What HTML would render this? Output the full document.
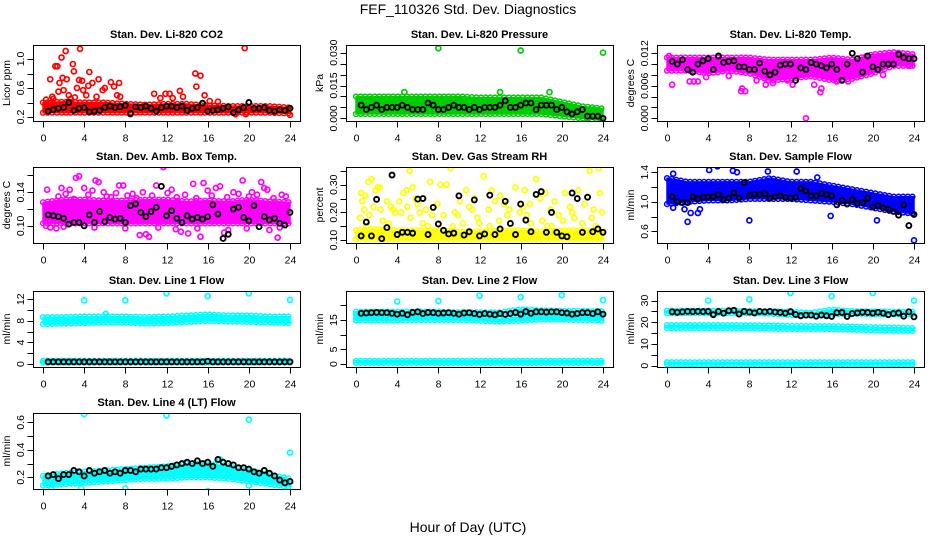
<!DOCTYPE html>
<html><head><meta charset="utf-8"><title>FEF_110326 Std. Dev. Diagnostics</title>
<style>
html,body{margin:0;padding:0;background:#fff;}
svg{display:block;font-family:"Liberation Sans",Arial,sans-serif;}
</style></head>
<body>
<svg id="chart" width="936" height="540" viewBox="0 0 936 540" xmlns="http://www.w3.org/2000/svg">
<rect x="0" y="0" width="936" height="540" fill="#fff"/>
<text x="468" y="14" text-anchor="middle" font-size="14">FEF_110326  Std. Dev. Diagnostics</text>
<text x="468" y="532" text-anchor="middle" font-size="14">Hour of Day (UTC)</text>
</svg>
<script>
// ---------- shared data ----------
const xTicks = [0,4,8,12,16,20,24];
const bandHours = [0,2,4,6,8,10,12,14,16,18,20,22,24];

// CO2
const co2BandLo = [0.26,0.26,0.26,0.26,0.26,0.26,0.26,0.26,0.26,0.26,0.26,0.26,0.25];
const co2BandHi = [0.40,0.41,0.40,0.40,0.38,0.37,0.38,0.38,0.36,0.35,0.35,0.35,0.33];
const co2Out = [[0.7,0.72],[0.9,0.48],[1.2,0.9],[1.4,0.9],[1.6,0.67],[1.8,1.02],[1.9,0.74],[2.2,1.11],[2.3,0.72],[2.0,0.57],[2.5,0.5],[2.9,0.93],[3.0,0.83],[3.3,0.6],[3.5,0.71],[3.6,1.14],[3.8,0.7],[3.9,0.57],[4.2,0.5],[4.4,0.63],[4.5,0.82],[4.8,0.67],[5.4,0.72],[5.8,0.57],[6.0,0.6],[6.6,0.68],[6.9,0.62],[7.2,0.5],[7.4,0.67],[7.5,0.48],[5.2,0.48],[10.8,0.52],[11.4,0.46],[11.9,0.52],[12.3,0.52],[13.3,0.56],[14.8,0.8],[14.9,0.62],[15.3,0.77],[15.7,0.5],[19.6,1.15],[1.0,0.45],[1.5,0.55],[2.7,0.45],[3.1,0.47],[0.3,0.44],[12.6,0.46],[13.6,0.48],[16.2,0.42],[17.0,0.41],[8.5,0.24],[18.7,0.24],[19.7,0.24],[24,0.23]];
const co2Black = [0.28,0.30,0.32,0.33,0.40,0.29,0.32,0.33,0.27,0.28,0.29,0.33,0.35,0.33,0.34,0.36,0.25,0.34,0.33,0.35,0.32,0.28,0.33,0.35,0.35,0.33,0.35,0.29,0.32,0.33,0.39,0.28,0.29,0.30,0.32,0.34,0.26,0.30,0.33,0.40,0.32,0.32,0.33,0.29,0.28,0.30,0.29,0.32];

// Pressure
const presBandLo = [0.002,0.002,0.002,0.002,0.002,0.002,0.002,0.002,0.002,0.002,0.001,0.000,-0.001];
const presBandHi = [0.010,0.010,0.010,0.010,0.010,0.010,0.0095,0.0095,0.0095,0.0095,0.0075,0.0055,0.0045];
const presOut = [[8,0.032],[16,0.031],[24,0.030],[22.5,0.000],[23,0.004],[18.8,0.012],[14,0.012],[4.7,0.012]];
const presBlack = [0.006,0.004,0.005,0.006,0.004,0.005,0.005,0.005,0.006,0.005,0.004,0.004,0.004,0.007,0.006,0.004,0.004,0.005,0.006,0.005,0.005,0.004,0.005,0.004,0.005,0.005,0.005,0.006,0.008,0.005,0.005,0.006,0.007,0.007,0.004,0.006,0.006,0.006,0.004,0.005,0.003,0.002,0.003,0.004,0.001,0.001,0.001,0.000];

// Li-820 temp
const tempBandLo = [0.0088,0.0088,0.0083,0.0088,0.0083,0.0070,0.0073,0.0078,0.0070,0.0073,0.0083,0.0097,0.0097];
const tempBandHi = [0.0112,0.0112,0.0112,0.0112,0.0112,0.0108,0.0108,0.0108,0.0112,0.0108,0.0118,0.0122,0.0118];
const tempOut = [[0.5,0.0062],[2.2,0.0068],[2.6,0.0068],[3,0.0068],[7.2,0.0050],[7.6,0.0050],[7.3,0.0055],[9.6,0.0062],[10.3,0.0065],[13.5,0.0],[14.3,0.0062],[14.9,0.0048],[15,0.0055],[16.5,0.0068],[17.6,0.0068],[8.7,0.0070],[11.7,0.0070],[12.2,0.0062],[6,0.0078],[21,0.0080],[23.6,0.0097],[3.8,0.0076],[0.2,0.0115]];
const tempBlack = [0.0105,0.0100,0.0108,0.0090,0.0085,0.0100,0.0106,0.0110,0.0090,0.0115,0.0103,0.0105,0.0106,0.0095,0.0095,0.0090,0.0090,0.0102,0.0087,0.0080,0.0085,0.0098,0.0100,0.0100,0.0070,0.0093,0.0090,0.0103,0.0100,0.0097,0.0093,0.0100,0.0090,0.0070,0.0100,0.0120,0.0110,0.0085,0.0115,0.0095,0.0090,0.0100,0.0100,0.0100,0.0118,0.0112,0.0110,0.0110];

// Amb box temp
const ambBandLo = [0.103,0.103,0.103,0.103,0.103,0.103,0.103,0.103,0.103,0.103,0.103,0.103,0.103];
const ambBandHi = [0.128,0.131,0.131,0.130,0.130,0.131,0.131,0.129,0.130,0.129,0.131,0.129,0.128];
const ambOut = [[0.4,0.143],[3.2,0.157],[3.5,0.159],[5.1,0.154],[5.4,0.152],[1.8,0.145],[2.6,0.143],[4.0,0.145],[4.8,0.142],[7.4,0.148],[7.8,0.148],[9.4,0.089],[10.0,0.090],[10.3,0.087],[11.0,0.148],[11.7,0.170],[12.5,0.143],[13.4,0.093],[14.1,0.091],[15.3,0.087],[15.6,0.151],[16.8,0.145],[17.6,0.092],[19.4,0.154],[21.2,0.152],[21.5,0.145],[22.0,0.095],[22.8,0.086],[23.2,0.137],[0.7,0.098],[6.2,0.135],[8.7,0.138],[12.9,0.096],[17.2,0.147],[18.5,0.140],[20.3,0.140],[9.7,0.140],[1.3,0.097],[5.9,0.140],[14.6,0.150],[16.0,0.142],[18.0,0.095],[21.8,0.143],[0.3,0.100],[1.5,0.135],[2.2,0.138],[3.0,0.132],[4.4,0.137],[6.6,0.134],[7.1,0.139],[8.2,0.136],[9.1,0.133],[10.6,0.136],[12.1,0.139],[13.0,0.134],[13.8,0.137],[14.9,0.133],[16.4,0.136],[17.9,0.134],[19.0,0.138],[20.0,0.135],[20.8,0.137],[22.4,0.133],[23.6,0.135],[2.0,0.099],[5.0,0.098],[8.0,0.097],[11.2,0.098],[15.0,0.097],[19.8,0.097],[23.0,0.098]];
const ambBlack = [0.113,0.112,0.111,0.109,0.102,0.104,0.104,0.100,0.113,0.104,0.117,0.105,0.110,0.108,0.109,0.104,0.124,0.126,0.116,0.111,0.117,0.122,0.147,0.112,0.118,0.109,0.104,0.112,0.108,0.110,0.108,0.111,0.125,0.114,0.085,0.090,0.120,0.122,0.110,0.106,0.124,0.099,0.111,0.107,0.109,0.103,0.101,0.116];

// Gas stream RH
const rhBandLo = [0.103,0.103,0.103,0.103,0.103,0.103,0.103,0.103,0.103,0.103,0.103,0.103,0.103];
const rhBandHi = [0.135,0.140,0.135,0.135,0.135,0.130,0.130,0.135,0.135,0.130,0.135,0.135,0.130];
const rhOut = [[0.5,0.27],[0.6,0.24],[0.9,0.26],[1.2,0.31],[1.5,0.32],[1.9,0.28],[2.1,0.29],[2.3,0.29],[0.4,0.18],[0.8,0.21],[1.3,0.19],[1.7,0.22],[2.6,0.17],[3.0,0.24],[3.4,0.22],[3.6,0.21],[3.8,0.20],[4.2,0.24],[4.6,0.27],[4.9,0.28],[5.2,0.35],[5.5,0.29],[5.8,0.25],[6.2,0.20],[6.5,0.16],[7.2,0.31],[7.4,0.19],[7.9,0.23],[8.2,0.30],[8.8,0.30],[9.2,0.36],[9.6,0.20],[10.1,0.24],[10.7,0.28],[11.0,0.22],[11.5,0.25],[11.8,0.18],[12.4,0.33],[12.9,0.21],[13.5,0.24],[13.9,0.17],[14.4,0.23],[14.9,0.21],[15.5,0.29],[15.9,0.20],[16.4,0.28],[16.9,0.23],[17.5,0.32],[17.9,0.25],[18.4,0.27],[18.9,0.21],[19.3,0.24],[19.7,0.19],[20.3,0.27],[20.8,0.22],[21.2,0.18],[21.6,0.28],[22.2,0.23],[22.7,0.35],[23.1,0.21],[23.6,0.36],[23.7,0.27],[23.9,0.20],[3.2,0.16],[6.0,0.23],[9.4,0.15],[12.0,0.16],[15.0,0.16],[17.0,0.16],[19.0,0.15],[22.0,0.16],[2.4,0.21],[5.0,0.22],[8.5,0.19],[10.4,0.16],[13.2,0.28],[16.6,0.19],[20.1,0.17],[14.0,0.26],[4.4,0.20],[5.3,0.18],[6.8,0.21],[9.9,0.19],[11.3,0.21],[14.7,0.19],[16.2,0.22],[18.1,0.17],[21.0,0.20],[22.9,0.18],[1.0,0.15],[7.0,0.15],[13.0,0.15],[18.6,0.15],[23.3,0.15]];
const rhBlack = [0.115,0.165,0.115,0.247,0.105,0.145,0.335,0.120,0.128,0.128,0.125,0.248,0.250,0.120,0.218,0.158,0.135,0.122,0.125,0.260,0.118,0.130,0.245,0.115,0.122,0.262,0.120,0.140,0.240,0.160,0.120,0.230,0.172,0.130,0.265,0.275,0.128,0.200,0.128,0.115,0.112,0.270,0.250,0.128,0.255,0.130,0.140,0.128];

// Sample flow
const sfBandLo = [0.97,1.00,1.02,1.02,1.04,1.04,1.04,1.02,1.00,0.97,0.92,0.87,0.84];
const sfBandHi = [1.32,1.27,1.27,1.27,1.27,1.32,1.27,1.27,1.22,1.17,1.12,1.07,1.07];
const sfOut = [[2,0.73],[8,0.75],[4.9,1.48],[4.1,1.43],[6.4,1.42],[6.8,1.40],[12.6,1.41],[15.9,0.81],[20.4,0.75],[24,0.48],[0.6,0.92],[2.3,0.85],[3.0,0.85],[3.2,0.90],[9.8,1.41],[1.7,0.90],[0.6,1.38],[14.6,1.33]];
const sfBlack = [1.07,1.00,0.99,0.99,1.07,1.04,1.06,1.07,1.07,1.10,1.03,1.05,1.12,1.05,1.26,1.09,1.10,1.10,1.11,1.05,1.07,1.08,1.06,1.05,1.06,1.18,1.15,1.08,1.08,1.11,1.10,1.08,0.96,1.02,0.97,1.03,0.98,0.99,1.05,0.93,0.95,0.92,0.90,0.87,0.82,0.96,0.68,0.83];

// Line 1 flow
const l1BandLo = [7.4,7.5,7.6,7.7,7.7,7.5,7.6,7.8,8.0,7.9,7.8,7.7,7.6];
const l1BandHi = [8.7,8.7,8.8,8.8,8.8,8.7,8.8,9.0,9.2,9.0,9.0,8.8,8.8];
const l1Band2Lo = [0.3,0.3,0.3,0.3,0.3,0.3,0.3,0.3,0.3,0.3,0.3,0.3,0.3];
const l1Band2Hi = [0.6,0.6,0.6,0.6,0.6,0.6,0.6,0.6,0.6,0.6,0.6,0.6,0.6];
const l1Out = [[4,11.8],[8,11.8],[12,13.1],[16,12.6],[20,13.1],[24,11.9],[6.1,9.3]];
const l1Black = [0.4,0.4,0.4,0.4,0.4,0.4,0.4,0.4,0.4,0.4,0.4,0.4,0.4,0.4,0.4,0.4,0.4,0.4,0.4,0.4,0.4,0.4,0.4,0.4,0.4,0.4,0.4,0.4,0.4,0.4,0.4,0.5,0.4,0.4,0.4,0.4,0.4,0.4,0.4,0.4,0.4,0.4,0.4,0.4,0.4,0.4,0.4,0.4];

// Line 2 flow
const l2BandLo = [17.0,17.0,17.0,17.0,17.0,17.0,17.0,17.0,17.5,17.2,17.2,17.0,17.0];
const l2BandHi = [17.8,17.8,17.8,17.8,17.8,17.6,17.6,17.6,18.6,18.3,18.1,18.1,18.0];
const l2Band2Lo = [14.9,14.9,14.9,15.0,15.0,15.0,14.8,14.5,14.8,15.2,15.2,15.0,14.8];
const l2Band2Hi = [15.8,15.8,15.8,15.8,15.8,15.8,15.8,15.3,16.1,16.0,15.8,15.8,15.8];
const l2Band3Lo = [0.4,0.4,0.4,0.4,0.4,0.4,0.4,0.4,0.4,0.4,0.4,0.4,0.4];
const l2Band3Hi = [1.1,1.1,1.1,1.1,1.1,1.1,1.1,1.1,1.1,1.1,1.1,1.1,1.1];
const l2Out = [[4,21.3],[8,21.5],[12,23.3],[16,22.8],[20,23.5],[24,21.8]];
const l2Black = [17.3,17.4,17.5,17.6,17.5,17.5,17.3,17.0,17.3,16.8,17.6,17.8,17.2,17.6,17.5,17.3,17.4,17.5,17.3,17.0,17.4,17.5,17.2,16.9,17.2,17.0,16.8,17.2,16.9,17.2,17.6,17.0,17.9,17.3,17.8,17.8,17.7,17.8,17.8,17.5,17.4,17.0,17.2,17.5,17.5,17.2,17.8,17.0];

// Line 3 flow
const l3BandLo = [24.2,24.2,24.2,24.2,24.2,24.0,23.4,23.2,23.7,24.0,23.7,23.7,23.7];
const l3BandHi = [25.3,25.3,25.3,25.3,25.1,25.0,24.8,24.3,25.8,25.1,25.0,24.8,24.8];
const l3Band2Lo = [17.3,17.3,17.3,17.3,17.2,17.1,16.9,16.9,16.9,16.6,16.3,16.1,16.1];
const l3Band2Hi = [18.7,18.7,18.7,18.7,18.6,18.5,18.3,18.2,18.2,18.0,17.7,17.5,17.3];
const l3Band3Lo = [0.6,0.6,0.6,0.6,0.6,0.6,0.6,0.6,0.6,0.6,0.6,0.6,0.6];
const l3Band3Hi = [1.6,1.6,1.6,1.6,1.6,1.6,1.6,1.6,1.6,1.6,1.6,1.6,1.6];
const l3Out = [[4,30],[8,30.5],[12,33.5],[16,32],[20,33.5],[24,30]];
const l3Black = [24.8,24.6,24.8,25.0,24.9,25.0,24.9,25.0,23.5,25.0,24.2,25.3,25.5,23.8,25.0,24.7,24.3,25.0,24.8,25.0,24.7,24.5,24.2,24.9,23.6,23.0,23.3,23.3,22.8,23.3,23.0,22.7,24.4,24.5,22.7,24.0,24.3,24.6,24.5,24.2,24.6,24.2,23.5,24.0,24.3,22.8,24.8,22.5];

// Line 4 flow
const l4BandLo = [0.14,0.15,0.16,0.17,0.18,0.19,0.19,0.20,0.20,0.19,0.17,0.15,0.13];
const l4BandHi = [0.21,0.23,0.24,0.25,0.26,0.27,0.28,0.30,0.30,0.28,0.25,0.22,0.19];
const l4Out = [[4,0.66],[12,0.65],[20,0.62],[24,0.38],[16,0.10],[8,0.12],[17.2,0.33],[0.8,0.12],[3.7,0.12],[20,0.14]];
const l4Black = [0.21,0.22,0.19,0.22,0.22,0.25,0.24,0.21,0.25,0.23,0.24,0.25,0.23,0.24,0.23,0.25,0.25,0.24,0.26,0.26,0.26,0.26,0.27,0.27,0.28,0.29,0.30,0.31,0.30,0.32,0.30,0.31,0.28,0.33,0.31,0.30,0.29,0.27,0.27,0.26,0.24,0.23,0.25,0.23,0.21,0.18,0.16,0.17];

// ---------- layout ----------
const colX = [33,346,657];
const rowY = [45,167,291,413];
const PW = 267, PH = 76;

const panels = [
 {key:'co2',title:'Stan. Dev. Li-820 CO2',ylab:'Licor ppm',color:'#ff0000',c:0,r:0,dom:[0.145,1.193],ticks:[0.2,0.4,0.6,0.8,1.0],labels:['0.2','0.6','1.0'],bands:[[co2BandLo,co2BandHi]],out:co2Out,black:co2Black},
 {key:'pressure',title:'Stan. Dev. Li-820 Pressure',ylab:'kPa',color:'#00cc00',c:1,r:0,dom:[-0.0012,0.0335],ticks:[0,0.005,0.010,0.015,0.020,0.025,0.030],labels:['0.000','0.015','0.030'],bands:[[presBandLo,presBandHi]],out:presOut,black:presBlack},
 {key:'temp',title:'Stan. Dev. Li-820 Temp.',ylab:'degrees C',color:'#ff00ff',c:2,r:0,dom:[-0.0005,0.01353],ticks:[0,0.002,0.004,0.006,0.008,0.010,0.012],labels:['0.000','0.006','0.012'],bands:[[tempBandLo,tempBandHi]],out:tempOut,black:tempBlack},
 {key:'amb',title:'Stan. Dev. Amb. Box Temp.',ylab:'degrees C',color:'#ff00ff',c:0,r:1,dom:[0.0796,0.170],ticks:[0.10,0.12,0.14,0.16],labels:['0.10','0.14'],bands:[[ambBandLo,ambBandHi]],out:ambOut,black:ambBlack},
 {key:'rh',title:'Stan. Dev. Gas Stream RH',ylab:'percent',color:'#ffff00',c:1,r:1,dom:[0.0893,0.364],ticks:[0.10,0.15,0.20,0.25,0.30,0.35],labels:['0.10','0.20','0.30'],bands:[[rhBandLo,rhBandHi]],out:rhOut,black:rhBlack},
 {key:'sample',title:'Stan. Dev. Sample Flow',ylab:'ml/min',color:'#0000ff',c:2,r:1,dom:[0.444,1.471],ticks:[0.6,0.8,1.0,1.2,1.4],labels:['0.6','1.0','1.4'],bands:[[sfBandLo,sfBandHi]],out:sfOut,black:sfBlack},
 {key:'line1',title:'Stan. Dev. Line 1 Flow',ylab:'ml/min',color:'#00ffff',c:0,r:2,dom:[-0.55,13.54],ticks:[0,2,4,6,8,10,12],labels:['0','4','8','12'],bands:[[l1BandLo,l1BandHi],[l1Band2Lo,l1Band2Hi]],out:l1Out,black:l1Black},
 {key:'line2',title:'Stan. Dev. Line 2 Flow',ylab:'ml/min',color:'#00ffff',c:1,r:2,dom:[-1.0,24.9],ticks:[0,5,10,15,20],labels:['0','5','15'],bands:[[l2BandLo,l2BandHi],[l2Band2Lo,l2Band2Hi],[l2Band3Lo,l2Band3Hi]],out:l2Out,black:l2Black},
 {key:'line3',title:'Stan. Dev. Line 3 Flow',ylab:'ml/min',color:'#00ffff',c:2,r:2,dom:[-0.6,34.4],ticks:[0,5,10,15,20,25,30],labels:['0','10','20','30'],bands:[[l3BandLo,l3BandHi],[l3Band2Lo,l3Band2Hi],[l3Band3Lo,l3Band3Hi]],out:l3Out,black:l3Black},
 {key:'line4',title:'Stan. Dev. Line 4 (LT) Flow',ylab:'ml/min',color:'#00ffff',c:0,r:3,dom:[0.115,0.668],ticks:[0.2,0.3,0.4,0.5,0.6],labels:['0.2','0.4','0.6'],bands:[[l4BandLo,l4BandHi]],out:l4Out,black:l4Black}
];

const NS = 'http://www.w3.org/2000/svg';
const svg = document.getElementById('chart');
function mk(tag, attrs, parent){
  const e = document.createElementNS(NS, tag);
  for (const k in attrs) e.setAttribute(k, attrs[k]);
  parent.appendChild(e);
  return e;
}
function fmt(v){ return String(v); }
function interp(arr, h){
  for (let i=0;i<bandHours.length-1;i++){
    if (h<=bandHours[i+1]){
      const t=(h-bandHours[i])/(bandHours[i+1]-bandHours[i]);
      return arr[i]+(arr[i+1]-arr[i])*t;
    }
  }
  return arr[arr.length-1];
}

panels.forEach(p=>{
  const L = colX[p.c], T = rowY[p.r];
  const xScale = h => L + 10 + h*(PW-20)/24;
  const yScale = v => T + PH - (v - p.dom[0])/(p.dom[1]-p.dom[0])*PH;
  const g = mk('g',{},svg);
  
  

  const title = mk('text',{x:L+PW/2,y:T-7,'text-anchor':'middle','font-size':'11','font-weight':'bold'},g);
  title.textContent = p.title;
  
  

  const cid = 'clip-' + p.key;
  const cp = mk('clipPath',{id:cid},g);
  mk('rect',{x:L,y:T,width:PW,height:PH},cp);
  const plot = mk('g',{'clip-path':'url(#'+cid+')'},g);
  
  

  p.bands.forEach((b,bi)=>{
    const lo=b[0], hi=b[1];
    let pts=[];
    bandHours.forEach((h,i)=>pts.push(xScale(h)+','+yScale(hi[i])));
    for (let i=bandHours.length-1;i>=0;i--) pts.push(xScale(bandHours[i])+','+yScale(lo[i]));
    const poly = mk('polygon',{points:pts.join(' '),fill:p.color,stroke:p.color,'stroke-width':'1.5','stroke-linejoin':'round'},plot);
    
    
    for (let h=0; h<=24.001; h+=0.45){
      const y1 = yScale(interp(hi,h)), y2 = yScale(interp(lo,h));
      const c1 = mk('circle',{cx:xScale(h),cy:y1,r:2.4,fill:'none',stroke:p.color,'stroke-width':1.5},plot);
      
      
      const c2 = mk('circle',{cx:xScale(h),cy:y2,r:2.4,fill:'none',stroke:p.color,'stroke-width':1.5},plot);
      
      
    }
  });
  p.out.forEach(o=>{
    const c = mk('circle',{cx:xScale(o[0]),cy:yScale(o[1]),r:2.5,fill:'none',stroke:p.color,'stroke-width':1.7},plot);
    
    
  });
  const n = p.black.length;
  p.black.forEach((v,i)=>{
    const h = (i+1)*24/n;
    const c = mk('circle',{cx:xScale(h),cy:yScale(v),r:2.5,fill:'none',stroke:'#000','stroke-width':1.9},plot);
    
    
  });

  const box = mk('rect',{x:L+0.5,y:T+0.5,width:PW,height:PH,fill:'none',stroke:'#000','stroke-width':1},g);
  
  

  const xa = mk('g',{},g);
  
  
  const yb = T+PH+0.5;
  xTicks.forEach(t=>{
    const x = Math.round(xScale(t))+0.5;
    mk('line',{x1:x,x2:x,y1:yb,y2:yb+6,stroke:'#000'},xa);
    const tx = mk('text',{x:x,y:yb+20,'text-anchor':'middle','font-size':'10.5'},xa);
    tx.textContent = fmt(t);
    
    
  });

  const ya = mk('g',{},g);
  
  
  const xl = L+0.5;
  p.ticks.forEach(t=>{
    const y = Math.round(yScale(t))+0.5;
    mk('line',{x1:xl-6,x2:xl,y1:y,y2:y,stroke:'#000'},ya);
  });
  p.labels.forEach(lb=>{
    const y = yScale(parseFloat(lb));
    const tx = mk('text',{x:0,y:0,'text-anchor':'middle','font-size':'10.5',transform:'translate('+(L-9)+','+y+') rotate(-90)'},ya);
    tx.textContent = lb;
    
    
  });
  const yt = mk('text',{x:0,y:0,'text-anchor':'middle','font-size':'10.5',transform:'translate('+(L-23)+','+(T+PH/2)+') rotate(-90)'},ya);
  yt.textContent = p.ylab;
  
  
});
</script>
</body></html>
